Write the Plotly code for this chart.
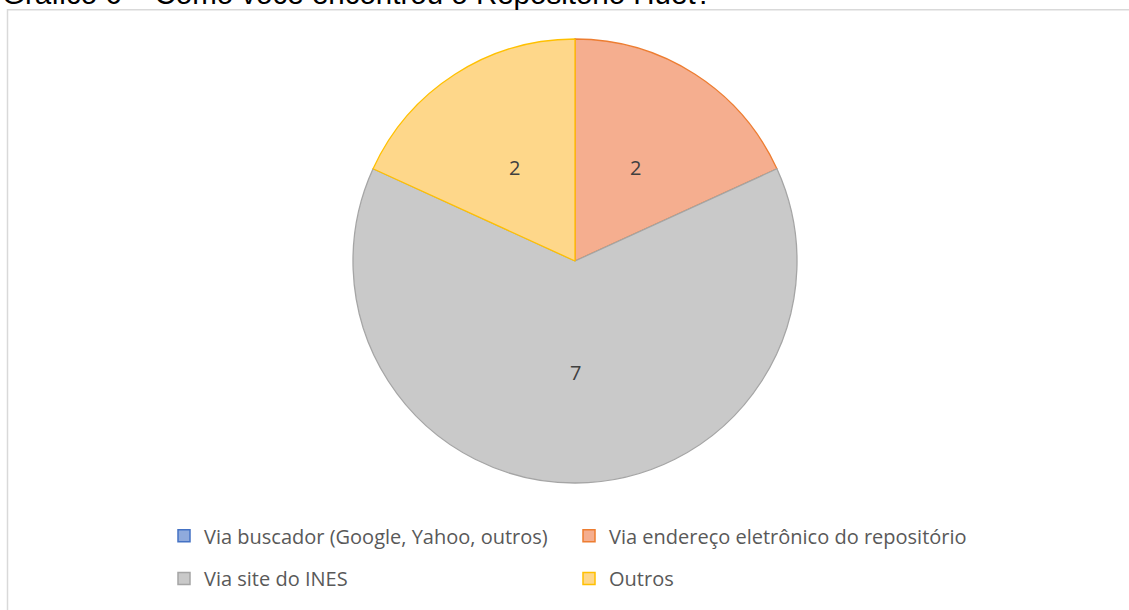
import math
import plotly.graph_objects as go

# Survey answers: how respondents found the repository
categories = [
    "Via buscador (Google, Yahoo, outros)",
    "Via endereço eletrônico do repositório",
    "Via site do INES",
    "Outros",
]
counts = [0, 2, 7, 2]

fill_colors = ["#8FAADC", "#F5AE8F", "#C9C9C9", "#FED78A"]
line_colors = ["#4472C4", "#ED7D31", "#A5A5A5", "#FFC000"]

title_text = "Gráfico 6 – Como você encontrou o Repositório Huet?"

W, H = 1129, 610
ML, MR, MT, MB = 150, 129, 39, 125
PW, PH = W - ML - MR, H - MT - MB
RADIUS = min(PW, PH) / 2


def px_x(x):
    return (x - ML) / PW


def px_y(y):
    return 1 - (y - MT) / PH


fig = go.Figure()

fig.add_trace(go.Pie(
    labels=categories,
    values=counts,
    sort=False,
    direction="clockwise",
    rotation=0,
    marker=dict(colors=fill_colors, line=dict(color=line_colors, width=1.3)),
    textinfo="none",
    showlegend=False,
    hoverinfo="label+value",
    domain=dict(x=[0, 1], y=[0, 1]),
))

# Value labels halfway out along each slice's bisector
label_font = dict(family="Open Sans, sans-serif", size=20, color="#404040")
total = sum(counts)
annotations = []
cum = 0
for v in counts:
    if v > 0:
        mid = (cum + v / 2) / total * 2 * math.pi  # clockwise from 12 o'clock
        r = 0.5 * RADIUS
        annotations.append(dict(
            text=str(v), xref="paper", yref="paper",
            x=0.5 + r * math.sin(mid) / PW, y=0.5 + r * math.cos(mid) / PH,
            xanchor="center", yanchor="middle", showarrow=False, font=label_font,
        ))
    cum += v

# Legend entries, two per row
for i, (name, fc, lc) in enumerate(zip(categories, fill_colors, line_colors)):
    fig.add_trace(go.Scatter(
        x=[None], y=[None], mode="markers", name=name,
        marker=dict(symbol="square", size=12, color=fc, line=dict(color=lc, width=1.5)),
        legend="legend" if i < 2 else "legend2",
        hoverinfo="skip",
    ))

legend_font = dict(family="Open Sans, sans-serif", size=20, color="#595959")
common_legend = dict(
    orientation="h", xanchor="left", yanchor="middle",
    font=legend_font, bgcolor="rgba(0,0,0,0)", borderwidth=0,
    entrywidth=360, entrywidthmode="pixels", itemwidth=30,
    itemclick=False, itemdoubleclick=False,
)

# Page title sitting above the chart frame
annotations.append(dict(
    text=title_text, xref="paper", yref="paper",
    x=px_x(0), y=px_y(12), xanchor="left", yanchor="bottom",
    showarrow=False,
    font=dict(family="Liberation Sans, Arial, sans-serif", size=29.5, color="#000000"),
))

fig.update_layout(
    width=W, height=H,
    margin=dict(l=ML, r=MR, t=MT, b=MB, pad=0),
    paper_bgcolor="white", plot_bgcolor="white",
    xaxis=dict(visible=False), yaxis=dict(visible=False),
    legend=dict(common_legend, x=px_x(164), y=px_y(538)),
    legend2=dict(common_legend, x=px_x(164), y=px_y(581)),
    shapes=[
        # chart frame
        dict(type="rect", xref="paper", yref="paper",
             x0=px_x(7.5), x1=px_x(W + 5), y0=px_y(H + 5), y1=px_y(9.5),
             line=dict(color="#D9D9D9", width=1.5), fillcolor="rgba(0,0,0,0)", layer="below"),
    ],
    annotations=annotations,
)

fig.write_html("out.html")
